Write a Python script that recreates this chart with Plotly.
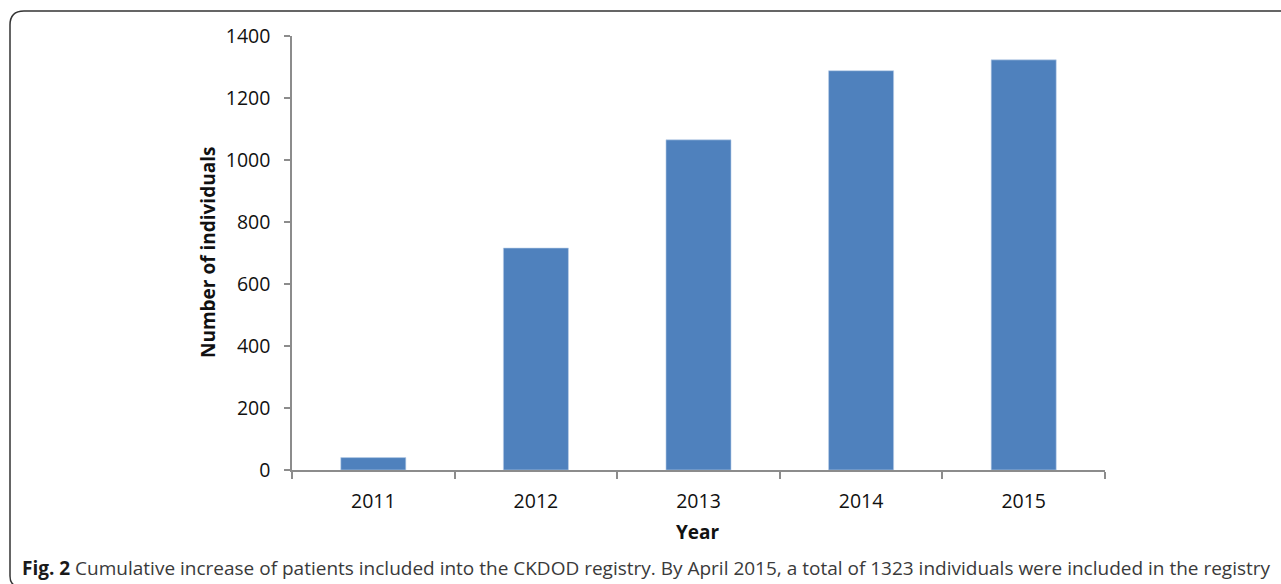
import plotly.graph_objects as go

years = ["2011", "2012", "2013", "2014", "2015"]
individuals = [40, 716, 1065, 1288, 1323]
y_ticks = [0, 200, 400, 600, 800, 1000, 1200, 1400]

W, H = 1281, 584
L, R, T, B = 292, 1281 - 1105, 36, 584 - 470
PW, PH = W - L - R, H - T - B

def px(x):
    return (x - L) / PW

def py(y):
    return (H - B - y) / PH

FONT = "Open Sans, Segoe UI, sans-serif"

fig = go.Figure(go.Bar(
    x=years, y=individuals,
    marker=dict(color="#4F81BD", line=dict(color="#BCD0EA", width=0.6)),
    width=0.4,
))

fig.update_layout(
    width=W, height=H,
    margin=dict(l=L, r=R, t=T, b=B, autoexpand=False),
    paper_bgcolor="white", plot_bgcolor="white",
    showlegend=False,
    font=dict(family=FONT, size=19, color="#111"),
)
fig.update_xaxes(
    type="category", showline=True, linecolor="#8C8C8C", linewidth=1.5,
    ticks="outside", tickson="boundaries", ticklen=7, tickcolor="#8C8C8C",
    tickwidth=1.5, showgrid=False, ticklabelstandoff=13,
    tickfont=dict(family=FONT, size=19.5, color="#111"),
)
fig.update_yaxes(
    range=[0, 1400], tickvals=y_ticks, showline=True, linecolor="#8C8C8C",
    linewidth=1.5, ticks="outside", ticklen=6, tickcolor="#8C8C8C", tickwidth=1.5,
    showgrid=False, zeroline=False, ticklabelstandoff=10,
    tickfont=dict(family=FONT, size=19.5, color="#111"),
)

fig.add_annotation(
    text="<b>Number of individuals</b>", textangle=-90,
    x=px(208), y=py(253), xref="paper", yref="paper",
    xanchor="center", yanchor="middle", showarrow=False,
    font=dict(family=FONT, size=19, color="#111"),
)
fig.add_annotation(
    text="<b>Year</b>", x=px(698), y=py(532), xref="paper", yref="paper",
    xanchor="center", yanchor="middle", showarrow=False,
    font=dict(family=FONT, size=19, color="#111"),
)
fig.add_annotation(
    text="<b style='color:#1a1a1a'>Fig. 2</b> Cumulative increase of patients included into the CKDOD registry. "
         "By April 2015, a total of 1323 individuals were included in the registry",
    x=px(20), y=py(568), xref="paper", yref="paper",
    xanchor="left", yanchor="middle", showarrow=False,
    font=dict(family=FONT, size=19, color="#3a3a3a"),
)

# rounded frame (top edge + left edge)
r = 14
path = (f"M {px(10)},{py(11 + r)} Q {px(10)},{py(11)} {px(10 + r)},{py(11)} "
        f"L {px(1300)},{py(11)}")
fig.add_shape(type="path", path=path, xref="paper", yref="paper",
              line=dict(color="#333", width=1.5))
path2 = (f"M {px(10)},{py(11 + r)} L {px(10)},{py(576)} Q {px(10)},{py(584)} {px(16)},{py(586)}")
fig.add_shape(type="path", path=path2, xref="paper", yref="paper",
              line=dict(color="#333", width=1.5))

fig.write_html("out.html")
